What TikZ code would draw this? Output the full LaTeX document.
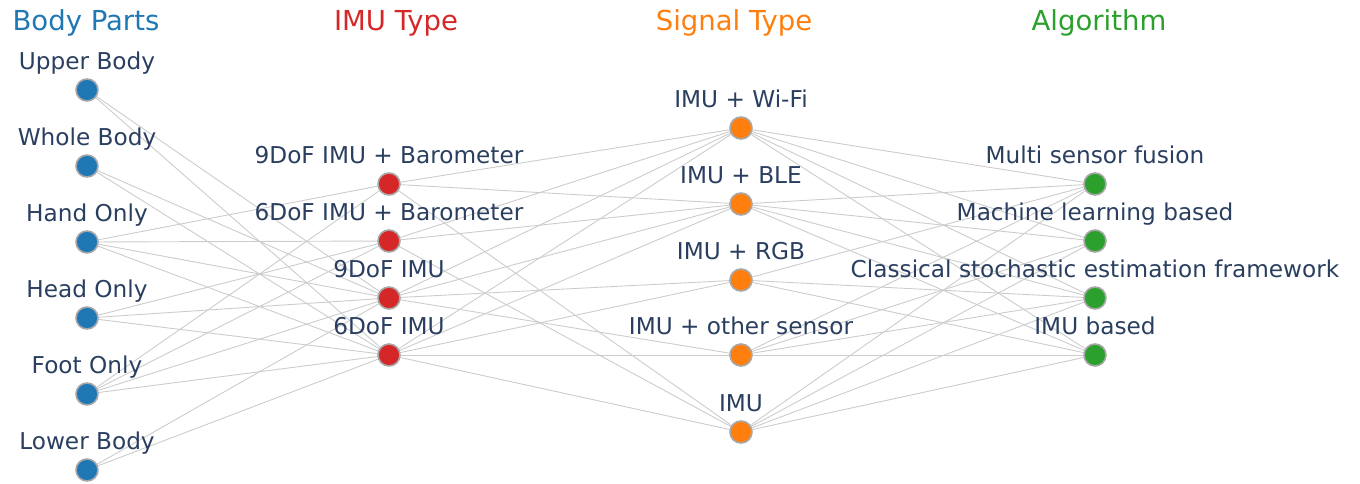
\documentclass[tikz,border=0pt]{standalone}
\usepackage{fontspec}
\setmainfont{DejaVu Sans}
\definecolor{cblue}{HTML}{1F77B4}
\definecolor{cred}{HTML}{D62728}
\definecolor{corange}{HTML}{FF7F0E}
\definecolor{cgreen}{HTML}{2CA02C}
\definecolor{ctext}{HTML}{2A3F5F}
\definecolor{cedge}{HTML}{CCCCCC}
\definecolor{cborder}{HTML}{A8A8A8}
\begin{document}
\begin{tikzpicture}[x=1pt,y=-1pt,
  dot/.style={circle,draw=cborder,line width=1.6pt,minimum size=22pt,inner sep=0pt},
  lbl/.style={text=ctext,font=\fontsize{23.2}{23.2}\selectfont,anchor=base},
  ttl/.style={font=\fontsize{27.5}{27.5}\selectfont,anchor=base},
  edge/.style={draw=cedge,line width=0.9pt}]
\useasboundingbox (0,0) rectangle (1360,483);
% titles
\node[ttl,text=cblue] at (86,30) {Body Parts};
\node[ttl,text=cred] at (396,30) {IMU Type};
\node[ttl,text=corange] at (734,30) {Signal Type};
\node[ttl,text=cgreen] at (1099,30) {Algorithm};
% coordinates
\coordinate (up) at (87,90);
\coordinate (wb) at (87,166);
\coordinate (ho) at (87,242);
\coordinate (hd) at (87,318);
\coordinate (fo) at (87,394);
\coordinate (lb) at (87,470);
\coordinate (nb) at (389,184);
\coordinate (sb) at (389,241);
\coordinate (ni) at (389,298);
\coordinate (si) at (389,355);
\coordinate (wf) at (741,128);
\coordinate (bl) at (741,204);
\coordinate (rg) at (741,280);
\coordinate (ot) at (741,355);
\coordinate (im) at (741,432);
\coordinate (ms) at (1095,184);
\coordinate (ml) at (1095,241);
\coordinate (cs) at (1095,298);
\coordinate (ib) at (1095,355);
% edges col1-col2
\foreach \a/\b in {up/ni,up/si,wb/ni,wb/si,ho/nb,ho/sb,ho/ni,ho/si,hd/sb,hd/ni,hd/si,fo/nb,fo/sb,fo/ni,fo/si,lb/ni,lb/si}
  \draw[edge] (\a) -- (\b);
% edges col2-col3
\foreach \a/\b in {nb/wf,nb/bl,nb/im,sb/wf,sb/bl,sb/im,ni/wf,ni/bl,ni/rg,ni/ot,si/wf,si/bl,si/rg,si/ot,si/im}
  \draw[edge] (\a) -- (\b);
% edges col3-col4
\foreach \a/\b in {wf/ms,wf/ml,wf/cs,wf/ib,bl/ms,bl/ml,bl/cs,bl/ib,rg/ms,rg/cs,rg/ib,ot/ms,ot/ml,ot/cs,ot/ib,im/ms,im/ml,im/cs,im/ib}
  \draw[edge] (\a) -- (\b);
% nodes
\foreach \n/\c in {up/cblue,wb/cblue,ho/cblue,hd/cblue,fo/cblue,lb/cblue,nb/cred,sb/cred,ni/cred,si/cred,wf/corange,bl/corange,rg/corange,ot/corange,im/corange,ms/cgreen,ml/cgreen,cs/cgreen,ib/cgreen}
  \node[dot,fill=\c] (n\n) at (\n) {};
% labels
\node[lbl] at ([yshift=21pt]up) {Upper Body};
\node[lbl] at ([yshift=21pt]wb) {Whole Body};
\node[lbl] at ([yshift=21pt]ho) {Hand Only};
\node[lbl] at ([yshift=21pt]hd) {Head Only};
\node[lbl] at ([yshift=21pt]fo) {Foot Only};
\node[lbl] at ([yshift=21pt]lb) {Lower Body};
\node[lbl] at ([yshift=21pt]nb) {9DoF IMU + Barometer};
\node[lbl] at ([yshift=21pt]sb) {6DoF IMU + Barometer};
\node[lbl] at ([yshift=21pt]ni) {9DoF IMU};
\node[lbl] at ([yshift=21pt]si) {6DoF IMU};
\node[lbl] at ([yshift=21pt]wf) {IMU + Wi-Fi};
\node[lbl] at ([yshift=21pt]bl) {IMU + BLE};
\node[lbl] at ([yshift=21pt]rg) {IMU + RGB};
\node[lbl] at ([yshift=21pt]ot) {IMU + other sensor};
\node[lbl] at ([yshift=21pt]im) {IMU};
\node[lbl] at ([yshift=21pt]ms) {Multi sensor fusion};
\node[lbl] at ([yshift=21pt]ml) {Machine learning based};
\node[lbl] at ([yshift=21pt]cs) {Classical stochastic estimation framework};
\node[lbl] at ([yshift=21pt]ib) {IMU based};
\end{tikzpicture}
\end{document}
